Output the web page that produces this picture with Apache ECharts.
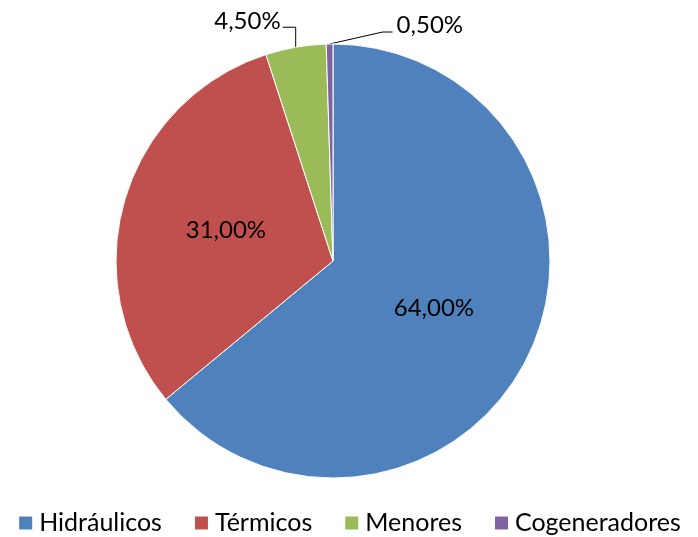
<!DOCTYPE html>
<html>
<head>
<meta charset="utf-8">
<script src="https://cdn.jsdelivr.net/npm/echarts@6/dist/echarts.min.js"></script>
<style>html,body{margin:0;padding:0;background:#fff;}#c{width:698px;height:537px;}</style>
</head>
<body>
<div id="c"></div>
<script>
var categories = ['Hidráulicos', 'Térmicos', 'Menores', 'Cogeneradores'];
var values = [64, 31, 4.5, 0.5];
var colors = ['#4F81BD', '#C0504D', '#9BBB59', '#8064A2'];
var outsideLabel = [false, false, true, true];

function fmt(v) { return v.toFixed(2).replace('.', ',') + '%'; }

var chart = echarts.init(document.getElementById('c'), null, {renderer: 'canvas'});
var FONT = 'Lato';

var data = categories.map(function (name, i) {
  return {
    name: name,
    value: values[i],
    itemStyle: {color: colors[i]},
    label: {position: outsideLabel[i] ? 'outside' : 'inside'},
    labelLine: {show: outsideLabel[i]}
  };
});

chart.setOption({
  animation: false,
  backgroundColor: '#ffffff',
  legend: {
    data: categories,
    left: 'center',
    top: 508,
    icon: 'rect',
    itemWidth: 15,
    itemHeight: 15,
    itemGap: 31,
    padding: 0,
    textStyle: {fontFamily: FONT, fontSize: 25, color: '#000', lineHeight: 30, padding: [0, 0, 0, 1]}
  },
  series: [{
    type: 'pie',
    center: [333, 261],
    radius: 217,
    startAngle: 90,
    clockwise: true,
    avoidLabelOverlap: false,
    itemStyle: {borderColor: '#ffffff', borderWidth: 1},
    label: {
      fontFamily: FONT,
      fontSize: 24,
      color: '#000',
      formatter: function (p) { return fmt(p.value); }
    },
    labelLine: {lineStyle: {color: '#000', width: 1}, length: 15, length2: 10},
    labelLayout: function (p) {
      var pts = p.labelLinePoints;
      if (!pts || !outsideLabel[p.dataIndex]) return {};
      var P = pts[0];
      if (p.dataIndex === 2) {
        var yl = P[1] - 20;
        return {
          x: P[0] - 15, y: yl - 6, align: 'right', verticalAlign: 'middle',
          labelLinePoints: [[P[0], P[1]], [P[0], yl], [P[0] - 13, yl]]
        };
      } else {
        var yl2 = P[1] - 12;
        return {
          x: P[0] + 67, y: yl2 - 7, align: 'left', verticalAlign: 'middle',
          labelLinePoints: [[P[0], P[1]], [P[0] + 53, yl2], [P[0] + 63, yl2]]
        };
      }
    },
    data: data
  }]
});
</script>
</body>
</html>
